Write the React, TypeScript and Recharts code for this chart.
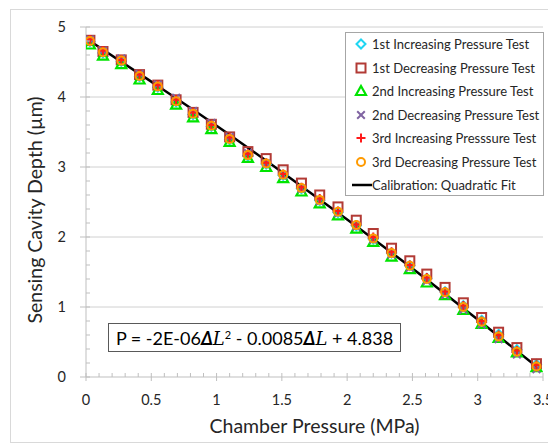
import React from "react";
import {
  ComposedChart,
  Scatter,
  Line,
  XAxis,
  YAxis,
  ReferenceLine,
  Label,
} from "recharts";

// chamber pressure (MPa), shared by all six test runs
const pressures = [
  0.03, 0.13, 0.27, 0.41, 0.55, 0.69, 0.82, 0.96, 1.1, 1.24, 1.38, 1.51, 1.65,
  1.79, 1.93, 2.07, 2.2, 2.34, 2.48, 2.61, 2.75, 2.89, 3.03, 3.16, 3.3, 3.45,
];

// sensing cavity depth (um) per run
const inc1 = [
  4.79, 4.63, 4.51, 4.29, 4.14, 3.93, 3.75, 3.58, 3.39, 3.16, 3.04, 2.88, 2.69,
  2.52, 2.35, 2.16, 1.97, 1.77, 1.59, 1.41, 1.22, 1.02, 0.81, 0.61, 0.39, 0.18,
];
const dec1 = [
  4.81, 4.65, 4.53, 4.32, 4.17, 3.96, 3.78, 3.61, 3.43, 3.22, 3.12, 2.96, 2.77,
  2.6, 2.43, 2.24, 2.05, 1.84, 1.66, 1.47, 1.28, 1.06, 0.85, 0.64, 0.42, 0.19,
];
const inc2 = [
  4.75, 4.59, 4.47, 4.25, 4.1, 3.89, 3.71, 3.54, 3.36, 3.13, 3.0, 2.84, 2.65,
  2.48, 2.31, 2.12, 1.93, 1.72, 1.54, 1.35, 1.17, 0.96, 0.76, 0.56, 0.35, 0.14,
];
const dec2 = [
  4.82, 4.66, 4.55, 4.33, 4.18, 3.99, 3.8, 3.63, 3.43, 3.2, 3.05, 2.88, 2.69,
  2.51, 2.34, 2.15, 1.96, 1.75, 1.56, 1.37, 1.17, 0.96, 0.75, 0.54, 0.32, 0.11,
];
const inc3 = [
  4.82, 4.66, 4.53, 4.32, 4.17, 3.96, 3.78, 3.6, 3.42, 3.19, 3.06, 2.9, 2.71,
  2.55, 2.37, 2.18, 2.0, 1.79, 1.6, 1.42, 1.22, 1.02, 0.8, 0.6, 0.38, 0.17,
];
const dec3 = [
  4.8, 4.64, 4.52, 4.3, 4.15, 3.94, 3.76, 3.59, 3.4, 3.17, 3.05, 2.89, 2.7,
  2.53, 2.36, 2.17, 1.98, 1.77, 1.59, 1.4, 1.21, 1.0, 0.79, 0.58, 0.36, 0.15,
];

// calibration curve
const fitPressures = [0.03, 0.5, 1.0, 1.5, 2.0, 2.5, 3.0, 3.45];
const fitDepths = [4.8, 4.22, 3.59, 2.93, 2.25, 1.55, 0.82, 0.15];

const xTicks = [
  0, 0.1, 0.2, 0.3, 0.4, 0.5, 0.6, 0.7, 0.8, 0.9, 1, 1.1, 1.2, 1.3, 1.4, 1.5,
  1.6, 1.7, 1.8, 1.9, 2, 2.1, 2.2, 2.3, 2.4, 2.5, 2.6, 2.7, 2.8, 2.9, 3, 3.1,
  3.2, 3.3, 3.4, 3.5,
];
const yTicks = [
  0, 0.2, 0.4, 0.6, 0.8, 1, 1.2, 1.4, 1.6, 1.8, 2, 2.2, 2.4, 2.6, 2.8, 3, 3.2,
  3.4, 3.6, 3.8, 4, 4.2, 4.4, 4.6, 4.8, 5,
];
const gridValues = [1, 2, 3, 4, 5];

const AXIS = "#bfbfbf";
const TEXT = "#262626";

const toPoints = (xs: number[], ys: number[]) =>
  xs.map((x, i) => ({ x, y: ys[i] }));

function Diamond({ cx, cy, color }: any) {
  const r = 4.5;
  return (
    <path
      d={`M${cx},${cy - r}L${cx + r},${cy}L${cx},${cy + r}L${cx - r},${cy}Z`}
      fill="none"
      stroke={color}
      strokeWidth={2}
    />
  );
}

function Square({ cx, cy, color }: any) {
  const r = 4.5;
  return (
    <rect
      x={cx - r}
      y={cy - r}
      width={r * 2}
      height={r * 2}
      fill="none"
      stroke={color}
      strokeWidth={2}
    />
  );
}

function Triangle({ cx, cy, color }: any) {
  const r = 5;
  return (
    <path
      d={`M${cx},${cy - r}L${cx + r},${cy + r * 0.8}L${cx - r},${cy + r * 0.8}Z`}
      fill="none"
      stroke={color}
      strokeWidth={2.2}
    />
  );
}

function Cross({ cx, cy, color }: any) {
  const r = 3.8;
  return (
    <path
      d={`M${cx - r},${cy - r}L${cx + r},${cy + r}M${cx + r},${cy - r}L${cx - r},${cy + r}`}
      stroke={color}
      strokeWidth={2}
    />
  );
}

function Plus({ cx, cy, color }: any) {
  const r = 4.5;
  return (
    <path
      d={`M${cx - r},${cy}L${cx + r},${cy}M${cx},${cy - r}L${cx},${cy + r}`}
      stroke={color}
      strokeWidth={2}
    />
  );
}

function Ring({ cx, cy, color }: any) {
  return <circle cx={cx} cy={cy} r={4} fill="none" stroke={color} strokeWidth={2} />;
}

const series = [
  { name: "1st Increasing Pressure Test", data: inc1, color: "#1fd6f2", Shape: Diamond },
  { name: "1st Decreasing Pressure Test", data: dec1, color: "#b23a35", Shape: Square },
  { name: "2nd Increasing Pressure Test", data: inc2, color: "#00e400", Shape: Triangle },
  { name: "2nd Decreasing Pressure Test", data: dec2, color: "#8064a2", Shape: Cross },
  { name: "3rd Increasing Presssure Test", data: inc3, color: "#ff1a1a", Shape: Plus },
  { name: "3rd Decreasing Pressure Test", data: dec3, color: "#ff9a00", Shape: Ring },
];

const isMajor = (v: number, step: number) =>
  Math.abs(v / step - Math.round(v / step)) < 1e-6;

function XTick({ x, y, payload }: any) {
  const v = payload.value;
  const major = isMajor(v, 0.5);
  return (
    <g>
      <line
        x1={x}
        x2={x}
        y1={y - 4}
        y2={major ? y + 4 : y}
        stroke={AXIS}
        strokeWidth={1}
      />
      {major && (
        <text x={x} y={y + 28} textAnchor="middle" fill={TEXT} fontSize={14.5}>
          {v}
        </text>
      )}
    </g>
  );
}

function YTick({ x, y, payload }: any) {
  const v = payload.value;
  const major = isMajor(v, 1);
  return (
    <g>
      <line
        x1={major ? x - 6 : x}
        x2={x + 4}
        y1={y}
        y2={y}
        stroke={AXIS}
        strokeWidth={1}
      />
      {major && (
        <text x={x - 20} y={y + 5} textAnchor="end" fill={TEXT} fontSize={14.5}>
          {v}
        </text>
      )}
    </g>
  );
}

function YTitle({ viewBox }: any) {
  const cx = viewBox.x + 34;
  const cy = viewBox.y + viewBox.height / 2 + 8;
  return (
    <text
      x={cx}
      y={cy}
      transform={`rotate(-90, ${cx}, ${cy})`}
      textAnchor="middle"
      dominantBaseline="central"
      fill={TEXT}
      fontSize={19.5}
    >
      Sensing Cavity Depth (µm)
    </text>
  );
}

function LegendBox() {
  const row = (i: number) => ({
    position: "absolute" as const,
    left: 0,
    top: 2 + i * 23.5,
    height: 18,
    display: "flex",
    alignItems: "center",
  });
  const label = { fontSize: 13, color: TEXT, whiteSpace: "nowrap" as const };
  return (
    <div
      style={{
        position: "relative",
        width: 197,
        height: 162,
        border: "1px solid #a6a6a6",
        background: "#fff",
      }}
    >
      {series.map((s, i) => (
        <div key={s.name} style={row(i)}>
          <svg width={26} height={18} style={{ display: "block" }}>
            <s.Shape cx={15} cy={9} color={s.color} />
          </svg>
          <span style={label}>{s.name}</span>
        </div>
      ))}
      <div style={row(6)}>
        <svg width={26} height={18} style={{ display: "block" }}>
          <line x1={6} x2={26} y1={9} y2={9} stroke="#000" strokeWidth={2.5} />
        </svg>
        <span style={label}>Calibration: Quadratic Fit</span>
      </div>
    </div>
  );
}

export default function App() {
  const fit = toPoints(fitPressures, fitDepths);
  return (
    <div
      style={{
        position: "absolute",
        left: 0,
        top: 0,
        width: 548,
        height: 444,
        background: "#fff",
        fontFamily: "Lato, 'Open Sans', sans-serif",
        overflow: "hidden",
      }}
    >
      <div
        style={{
          position: "absolute",
          left: 10,
          top: 9,
          width: 560,
          height: 432,
          border: "1px solid #d9d9d9",
        }}
      />
      <ComposedChart
        width={548}
        height={444}
        margin={{ top: 27, right: 5, left: 0, bottom: 0 }}
        style={{ position: "absolute", left: 0, top: 0 }}
      >
        {gridValues.map((g) => (
          <ReferenceLine key={g} y={g} stroke="#d0d0d0" strokeWidth={1} />
        ))}
        <XAxis
          type="number"
          dataKey="x"
          domain={[0, 3.5]}
          ticks={xTicks}
          interval={0}
          tick={<XTick />}
          tickLine={false}
          tickSize={0}
          tickMargin={0}
          height={67}
          stroke={AXIS}
          allowDataOverflow
        >
          <Label
            value="Chamber Pressure (MPa)"
            position="insideBottom"
            offset={11}
            style={{ fontSize: 19.5, fill: TEXT }}
          />
        </XAxis>
        <YAxis
          type="number"
          domain={[0, 5]}
          ticks={yTicks}
          interval={0}
          tick={<YTick />}
          tickLine={false}
          tickSize={0}
          tickMargin={0}
          width={86}
          stroke={AXIS}
          allowDataOverflow
        >
          <Label content={<YTitle />} />
        </YAxis>
        {series.map((s) => (
          <Scatter
            key={s.name}
            name={s.name}
            data={toPoints(pressures, s.data)}
            dataKey="y"
            isAnimationActive={false}
            shape={(p: any) => <s.Shape cx={p.cx} cy={p.cy} color={s.color} />}
          />
        ))}
        <Line
          name="Calibration: Quadratic Fit"
          data={fit}
          dataKey="y"
          type="monotone"
          stroke="#000"
          strokeWidth={2.5}
          dot={false}
          activeDot={false}
          isAnimationActive={false}
        />
      </ComposedChart>
      <div style={{ position: "absolute", left: 345, top: 32 }}>
        <LegendBox />
      </div>
      <div
        style={{
          position: "absolute",
          left: 108,
          top: 323,
          width: 291,
          height: 27,
          border: "1px solid #595959",
          background: "#fff",
          display: "flex",
          alignItems: "center",
          justifyContent: "center",
          fontSize: 18,
          color: "#000",
          whiteSpace: "nowrap",
        }}
      >
        <span>
          P = -2E-06
          <b><i>Δ</i></b>
          <i style={{ fontFamily: "'DejaVu Serif', serif" }}>L</i>
          <sup style={{ fontSize: 11, verticalAlign: "6px" }}>2</sup> - 0.0085
          <b><i>Δ</i></b>
          <i style={{ fontFamily: "'DejaVu Serif', serif" }}>L</i> + 4.838
        </span>
      </div>
    </div>
  );
}
